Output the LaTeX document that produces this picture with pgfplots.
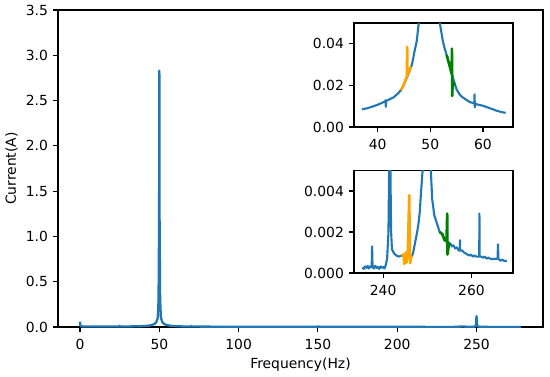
\documentclass[border=0pt]{standalone}
\usepackage{fontspec}
\setmainfont{DejaVu Sans}
\usepackage{pgfplots}
\pgfplotsset{compat=1.18}
\definecolor{mplblue}{HTML}{1F77B4}
\definecolor{mplorange}{HTML}{FFA500}
\definecolor{mplgreen}{HTML}{008000}
\pgfplotsset{
  mpl/.style={
    scale only axis,
    axis line style={line width=1.1pt},
    tick align=outside,
    tick pos=left,
    major tick length=4.9pt,
    every tick/.style={black, line width=1.1pt},
    font=\fontsize{13.9}{16}\selectfont,
    tick label style={font=\fontsize{13.9}{16}\selectfont, inner sep=0pt},
    xticklabel style={yshift=-7pt},
    yticklabel style={xshift=-5pt},
    /pgf/number format/assume math mode=true,
    axis background/.style={fill=white},
    every axis plot/.append style={line join=round},
  },
}
\begin{document}
\begin{tikzpicture}
\useasboundingbox (0,0) rectangle (550pt,376pt);
% main axis
\begin{axis}[mpl,
  at={(58pt,49pt)}, anchor=south west,
  width=485pt, height=317pt,
  xmin=-13.9, xmax=291.9, ymin=0, ymax=3.5,
  xtick={0,50,100,150,200,250},
  ytick={0,0.5,1,1.5,2,2.5,3,3.5},
  yticklabel style={/pgf/number format/fixed, /pgf/number format/fixed zerofill, /pgf/number format/precision=1},
  xlabel={Frequency(Hz)}, ylabel={Current(A)},
  xlabel style={at={(axis description cs:0.5,0)}, anchor=north, yshift=-31pt, inner sep=0pt},
  ylabel style={at={(axis description cs:0,0.5)}, anchor=south, yshift=40pt, inner sep=0pt},
]
\addplot[mplblue, line width=2.3pt] coordinates {
(0,0.06) (0.2,0.01) (2,0.006) (10,0.005) (20,0.006) (24.8,0.006) (25,0.014) (25.2,0.006) (30,0.006)
(37,0.0086) (40,0.0107) (43,0.0142) (45,0.02) (46,0.027) (47,0.035) (48,0.05) (49,0.1)
(49.5,0.3) (49.85,1.2) (50,2.83) (50.15,1.2) (50.5,0.3) (51,0.1) (52,0.05) (53,0.034) (54,0.025)
(56,0.016) (58,0.012) (60,0.0102) (64,0.0068) (70,0.005) (70.2,0.012) (70.4,0.005) (80,0.004)
(100,0.003) (120,0.003) (150,0.003) (150.2,0.008) (150.4,0.003) (200,0.002) (235,0.0003)
(241.5,0.006) (245,0.0008) (248,0.0024) (249,0.006) (249.6,0.02) (250,0.12) (250.4,0.02)
(251,0.006) (252,0.0024) (255,0.0014) (260,0.0008) (268,0.0006) (278,0.0005)
};
\end{axis}
% inset 1
\begin{axis}[mpl,
  at={(354pt,249pt)}, anchor=south west,
  width=159pt, height=104pt,
  xmin=35.5, xmax=65.7, ymin=0, ymax=0.05,
  xtick={40,50,60}, ytick={0,0.02,0.04},
  scaled y ticks=false,
  yticklabel style={/pgf/number format/fixed, /pgf/number format/fixed zerofill, /pgf/number format/precision=2},
]
\addplot[mplblue, line width=2.1pt] coordinates {
(37.0,0.0085) (38,0.0090) (39,0.0098) (40,0.0107) (41,0.0118) (41.45,0.0124) (41.5,0.0129)
(41.55,0.0097) (41.6,0.0125) (42,0.0130) (43,0.0142) (44,0.0165) (44.5,0.018) (45,0.0205)
(45.5,0.0235) (46,0.0265) (46.5,0.030) (46.75,0.033) (47,0.0365) (47.4,0.041) (47.8,0.050)
(48.5,0.075) (49,0.1) (50,2.83) (50.5,0.2) (51,0.1) (51.8,0.05) (52.4,0.041) (52.8,0.037)
(53.1,0.0346) (53.5,0.031) (54,0.0265) (54.5,0.022) (55,0.018) (55.6,0.0155) (56,0.0145)
(57,0.0128) (57.5,0.0120) (58.0,0.0116) (58.35,0.0113) (58.4,0.0157) (58.45,0.0094)
(58.5,0.0112) (59,0.0108) (60,0.0102) (61,0.0093) (62,0.0084) (62.5,0.0079) (63.5,0.0072)
(64.3,0.0068)
};
\addplot[mplorange, line width=2.6pt] coordinates {
(44.4,0.0178) (44.8,0.0195) (45.2,0.022) (45.55,0.0245) (45.6,0.0385) (45.65,0.025)
(46.0,0.027) (46.3,0.029)
};
\addplot[mplgreen, line width=2.6pt] coordinates {
(53.1,0.0346) (53.5,0.031) (53.9,0.027) (54.05,0.0255) (54.1,0.0377) (54.15,0.0149)
(54.25,0.0215) (54.6,0.0197)
};
\end{axis}
% inset 2
\begin{axis}[mpl,
  at={(354pt,103pt)}, anchor=south west,
  width=159pt, height=102.5pt,
  xmin=233.4, xmax=269.4, ymin=0, ymax=0.005,
  xtick={240,260}, ytick={0,0.002,0.004},
  scaled y ticks=false,
  yticklabel style={/pgf/number format/fixed, /pgf/number format/fixed zerofill, /pgf/number format/precision=3},
]
\addplot[mplblue, line width=2.1pt] coordinates {
(235.3,0.00027) (235.6,0.00020) (235.9,0.00032) (236.2,0.00025) (236.5,0.00035) (236.8,0.00022)
(237.1,0.00033) (237.4,0.00030) (237.5,0.00130) (237.6,0.00030) (237.9,0.00022) (238.2,0.00035)
(238.5,0.00025) (238.8,0.00030) (239.1,0.00020) (239.4,0.00032) (239.7,0.00025) (240.0,0.00030)
(240.3,0.00022) (240.6,0.00040) (240.9,0.00070) (241.2,0.0020) (241.4,0.0060) (241.6,0.0060)
(241.8,0.0020) (242.0,0.00115) (242.5,0.00095) (243.0,0.00085) (243.5,0.00080) (244.2,0.00085)
(244.6,0.0009) (245.0,0.0008) (245.5,0.0009) (246.0,0.0008) (246.5,0.0008) (246.8,0.0010)
(247.25,0.0015) (247.7,0.0020) (248.0,0.0024) (248.3,0.0030) (248.5,0.0037) (249.0,0.0052)
(249.5,0.010) (250.0,0.12) (250.5,0.010) (250.8,0.0050) (251.1,0.0036) (251.6,0.0028)
(252.2,0.0024) (252.8,0.0020) (253.3,0.0019) (253.8,0.0017) (254.3,0.0016) (254.8,0.0015)
(255.3,0.0014) (255.6,0.0013) (255.9,0.00135) (256.3,0.0012) (256.7,0.00125) (257.1,0.0011)
(257.35,0.0011) (257.4,0.0016) (257.45,0.0011) (257.9,0.0011) (258.3,0.0010) (258.7,0.00095)
(259.1,0.0009) (259.5,0.00085) (259.9,0.0009) (260.3,0.0008) (260.7,0.00085) (261.1,0.0008)
(261.75,0.0008) (261.8,0.0029) (261.85,0.0008) (262.2,0.0008) (262.6,0.00075) (263.0,0.0008)
(263.4,0.0007) (263.8,0.00075) (264.2,0.0007) (264.6,0.00068) (265.9,0.0007) (266.0,0.0014)
(266.1,0.0007) (266.5,0.0006) (267.0,0.00065) (267.5,0.00058) (268.0,0.0006)
};
\addplot[mplorange, line width=2.6pt] coordinates {
(244.2,0.00083) (244.6,0.0009) (244.8,0.00043) (245.1,0.0010) (245.3,0.0005) (245.6,0.0011)
(245.9,0.0038) (246.1,0.00048) (246.3,0.00075) (246.6,0.00083)
};
\addplot[mplgreen, line width=2.6pt] coordinates {
(252.8,0.0020) (253.4,0.0019) (253.9,0.0016) (254.35,0.00155) (254.5,0.0029) (254.55,0.0009)
(254.9,0.0014) (255.3,0.0014)
};
\end{axis}
\end{tikzpicture}
\end{document}
